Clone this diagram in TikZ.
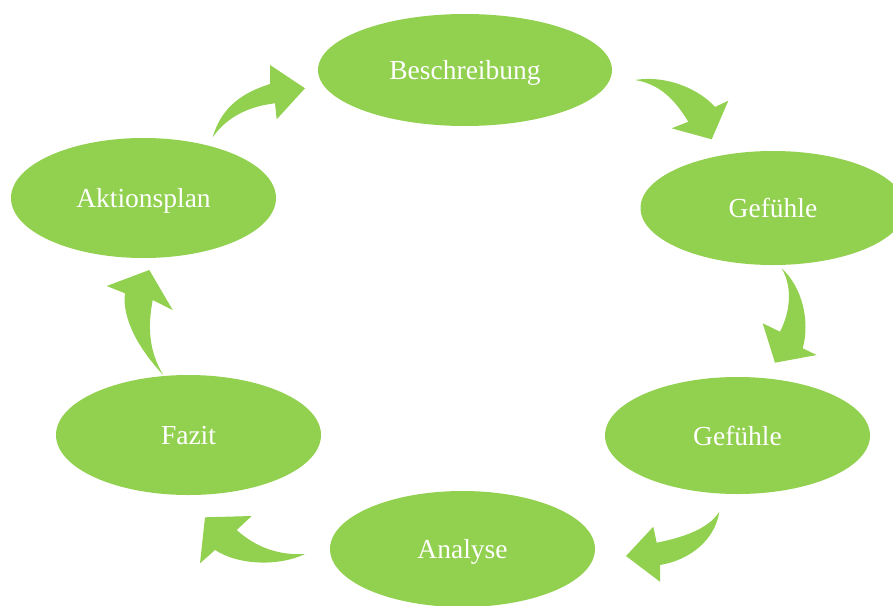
\documentclass[tikz,border=0pt]{standalone}
\usepackage{fontspec}
\setmainfont{Liberation Serif}
\usetikzlibrary{shapes.geometric}
\definecolor{leaf}{RGB}{146,208,80}
\begin{document}
\begin{tikzpicture}[x=1pt,y=-1pt,
  stage/.style={ellipse, fill=leaf, draw=none, inner sep=0pt,
    minimum width=265pt, minimum height=118pt,
    text=white, text height=19pt, text depth=0pt,
    font=\fontsize{27.5}{33}\selectfont},
  flow/.style={fill=leaf, draw=none}]
\useasboundingbox (0,0) rectangle (893,605);

% process stages
\node[stage, minimum width=294pt, minimum height=112pt] (besch) at (465,70) {Beschreibung};
\node[stage, minimum height=114pt] (gef1) at (773,208) {Gefühle};
\node[stage, minimum height=117pt] (gef2) at (737.5,435.5) {Gefühle};
\node[stage, minimum height=116pt] (ana) at (462.5,549) {Analyse};
\node[stage, minimum height=120pt] (faz) at (188.5,435) {Fazit};
\node[stage, minimum height=120pt] (akt) at (143.5,198) {Aktionsplan};

% curved block arrows between the stages
\fill[flow] (212.7,137.3) .. controls (222,105) and (245,92) .. (270,84)
  -- (270,65) -- (305,88.3) -- (276.7,119.3) -- (275,103.3)
  .. controls (252,106) and (228,115) .. cycle;
\fill[flow] (635,80) .. controls (665,75) and (698,88) .. (715,107)
  -- (728.3,100.7) -- (711.7,139.3) -- (671.7,128.3) -- (688.3,121.7)
  .. controls (675,100) and (660,84) .. cycle;
\fill[flow] (781.7,268.3) .. controls (803,288) and (810,322) .. (802.7,348.3)
  -- (816.7,355) -- (775,362.7) -- (762.7,323.3) -- (780,331.7)
  .. controls (790,312) and (793,288) .. cycle;
\fill[flow] (719.3,511.7) .. controls (715,540) and (690,560) .. (660,565)
  -- (660,581.7) -- (626,556) -- (653.3,526.7) -- (656.7,542.7)
  .. controls (680,538) and (708,530) .. cycle;
\fill[flow] (305,554) .. controls (280,566) and (240,566) .. (215,550)
  -- (200,563.3) -- (205,517.3) -- (251.7,516) -- (236.7,530)
  .. controls (250,542) and (272,556) .. cycle;
\fill[flow] (163.3,375) .. controls (135,345) and (122,315) .. (125,293.3)
  -- (106.7,286) -- (149.3,270) -- (172.7,310) -- (152.7,300)
  .. controls (148,325) and (148,350) .. cycle;
\end{tikzpicture}
\end{document}
